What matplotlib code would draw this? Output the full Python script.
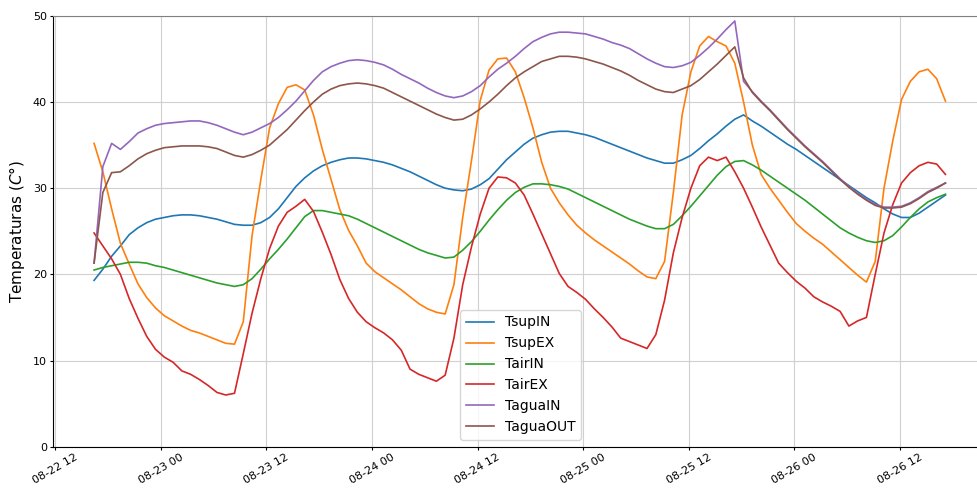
import matplotlib
matplotlib.use("Agg")
import matplotlib.dates as mdates
import matplotlib.pyplot as plt
import pandas as pd

# hourly readings, 08-22 16:25 -> 08-26 17:10
times = pd.date_range("2022-08-22 16:25", "2022-08-26 17:10", periods=98)

tsup_in = [
    19.3, 20.6, 22.1, 23.3, 24.6, 25.4, 26.0, 26.4, 26.6, 26.8,
    26.9, 26.9, 26.8, 26.6, 26.4, 26.1, 25.8, 25.7, 25.7, 26.0,
    26.6, 27.6, 28.9, 30.2, 31.2, 32.0, 32.6, 33.0, 33.3, 33.5,
    33.5, 33.4, 33.2, 33.0, 32.7, 32.3, 31.9, 31.4, 30.9, 30.4,
    30.0, 29.8, 29.7, 29.9, 30.4, 31.1, 32.2, 33.3, 34.2, 35.1,
    35.8, 36.2, 36.5, 36.6, 36.6, 36.4, 36.2, 35.9, 35.5, 35.1,
    34.7, 34.3, 33.9, 33.5, 33.2, 32.9, 32.9, 33.3, 33.8, 34.6,
    35.5, 36.3, 37.2, 38.0, 38.5, 37.8, 37.2, 36.5, 35.8, 35.1,
    34.5, 33.8, 33.1, 32.4, 31.7, 31.0, 30.3, 29.6, 28.9, 28.3,
    27.6, 27.0, 26.6, 26.6, 27.1, 27.8, 28.5, 29.2,
]
tsup_ex = [
    35.2, 31.9, 27.6, 23.6, 21.2, 18.9, 17.3, 16.1, 15.2, 14.6,
    14.0, 13.5, 13.2, 12.8, 12.4, 12.0, 11.9, 14.5, 24.5, 31.0,
    37.0, 39.8, 41.7, 42.0, 41.4, 38.5, 34.5, 31.0, 27.5, 25.1,
    23.3, 21.3, 20.3, 19.6, 18.9, 18.2, 17.4, 16.6, 16.0, 15.6,
    15.4, 18.8, 26.6, 33.2, 40.2, 43.7, 45.0, 45.1, 43.5, 40.5,
    37.0, 33.0, 30.0, 28.3, 26.9, 25.7, 24.8, 24.0, 23.3, 22.6,
    21.9, 21.2, 20.4, 19.7, 19.5, 21.5, 29.5, 38.5, 43.5, 46.5,
    47.6, 47.0, 46.5, 44.5, 40.0, 35.0, 31.6, 30.0, 28.6, 27.2,
    25.9, 25.0, 24.2, 23.5, 22.6, 21.7, 20.8, 19.9, 19.1, 21.5,
    30.0, 35.5, 40.3, 42.4, 43.5, 43.8, 42.7, 40.1,
]
tair_in = [
    20.5, 20.8, 21.0, 21.2, 21.4, 21.4, 21.3, 21.0, 20.8, 20.5,
    20.2, 19.9, 19.6, 19.3, 19.0, 18.8, 18.6, 18.8, 19.5, 20.6,
    21.8, 22.9, 24.1, 25.4, 26.7, 27.4, 27.4, 27.2, 27.0, 26.8,
    26.4, 25.9, 25.4, 24.9, 24.4, 23.9, 23.4, 22.9, 22.5, 22.2,
    21.9, 22.0, 22.8, 23.8, 25.0, 26.3, 27.5, 28.6, 29.5, 30.1,
    30.5, 30.5, 30.4, 30.2, 29.9, 29.4, 28.9, 28.4, 27.9, 27.4,
    26.9, 26.4, 26.0, 25.6, 25.3, 25.3, 25.8, 26.8, 27.9, 29.1,
    30.3, 31.5, 32.5, 33.1, 33.2, 32.7, 32.1, 31.4, 30.7, 30.0,
    29.3, 28.6, 27.8, 27.0, 26.2, 25.4, 24.8, 24.3, 23.9, 23.7,
    23.9, 24.5, 25.5, 26.6, 27.6, 28.4, 28.9, 29.3,
]
tair_ex = [
    24.8, 23.3, 21.8, 20.0, 17.2, 14.9, 12.8, 11.3, 10.4, 9.8,
    8.8, 8.4, 7.8, 7.1, 6.3, 6.0, 6.2, 10.8, 15.5, 19.5,
    23.0, 25.6, 27.2, 27.9, 28.7, 27.3, 24.9, 22.3, 19.4, 17.2,
    15.6, 14.5, 13.8, 13.2, 12.4, 11.2, 9.0, 8.4, 8.0, 7.6,
    8.3, 12.6, 18.8, 23.2, 27.0, 30.0, 31.3, 31.2, 30.6, 29.2,
    27.0, 24.7, 22.4, 20.1, 18.6, 17.9, 17.1, 16.0, 15.0, 13.9,
    12.6, 12.2, 11.8, 11.4, 13.0, 17.0, 22.5, 26.6, 30.0, 32.6,
    33.6, 33.2, 33.6, 31.9, 30.0, 27.8, 25.5, 23.4, 21.3, 20.2,
    19.2, 18.4, 17.4, 16.8, 16.3, 15.7, 14.0, 14.6, 15.0, 20.0,
    24.8, 28.1, 30.6, 31.8, 32.6, 33.0, 32.8, 31.6,
]
tagua_in = [
    21.3, 32.5, 35.2, 34.5, 35.4, 36.4, 36.9, 37.3, 37.5, 37.6,
    37.7, 37.8, 37.8, 37.6, 37.3, 36.9, 36.5, 36.2, 36.5, 37.0,
    37.5, 38.2, 39.1, 40.1, 41.3, 42.5, 43.5, 44.1, 44.5, 44.8,
    44.9, 44.8, 44.6, 44.3, 43.8, 43.2, 42.7, 42.2, 41.6, 41.1,
    40.7, 40.5, 40.7, 41.2, 41.9, 42.9, 43.8, 44.5, 45.3, 46.2,
    47.0, 47.5, 47.9, 48.1, 48.1, 48.0, 47.9, 47.6, 47.3, 46.9,
    46.6, 46.2, 45.6, 45.0, 44.5, 44.1, 44.0, 44.2, 44.6, 45.4,
    46.3, 47.3, 48.4, 49.4, 42.4, 41.2, 40.1, 39.1, 38.0, 36.9,
    35.9, 34.9, 34.0, 33.1, 32.1, 31.1, 30.2, 29.4, 28.7, 28.1,
    27.8, 27.8, 27.9, 28.3, 28.9, 29.6, 30.1, 30.6,
]
tagua_out = [
    21.3, 29.5, 31.8, 31.9, 32.6, 33.4, 34.0, 34.4, 34.7, 34.8,
    34.9, 34.9, 34.9, 34.8, 34.6, 34.2, 33.8, 33.6, 33.9, 34.4,
    35.0, 35.9, 36.8, 37.9, 39.0, 40.0, 40.9, 41.5, 41.9, 42.1,
    42.2, 42.1, 41.9, 41.6, 41.1, 40.6, 40.1, 39.6, 39.1, 38.6,
    38.2, 37.9, 38.0, 38.5, 39.2, 40.0, 40.9, 41.9, 42.8, 43.5,
    44.1, 44.7, 45.0, 45.3, 45.3, 45.2, 45.0, 44.7, 44.4, 44.0,
    43.6, 43.1, 42.5, 42.0, 41.5, 41.2, 41.1, 41.5, 41.9, 42.6,
    43.5, 44.4, 45.4, 46.4, 42.8, 41.1, 40.0, 39.0, 37.9, 36.8,
    35.8, 34.8, 33.9, 33.0, 32.0, 31.0, 30.1, 29.3, 28.6, 28.0,
    27.7, 27.7, 27.8, 28.2, 28.8, 29.5, 30.0, 30.6,
]

series = [
    ("TsupIN", tsup_in),
    ("TsupEX", tsup_ex),
    ("TairIN", tair_in),
    ("TairEX", tair_ex),
    ("TaguaIN", tagua_in),
    ("TaguaOUT", tagua_out),
]

fig = plt.figure(figsize=(9.78, 4.88), dpi=100)
ax = fig.add_axes([0.0542, 0.0846, 0.956, 0.883])

for name, values in series:
    ax.plot(times, values, label=name, linewidth=1.2)

ax.set_xlim(pd.Timestamp("2022-08-22 11:45"), pd.Timestamp("2022-08-26 22:00"))
ax.set_ylim(0, 50)
ax.xaxis.set_major_locator(mdates.HourLocator(byhour=[0, 12]))
ax.xaxis.set_major_formatter(mdates.DateFormatter("%m-%d %H"))
ax.tick_params(axis="x", labelsize=8, labelrotation=30, length=2.5, pad=1.5)
ax.tick_params(axis="y", labelsize=8, length=2.5, pad=2)
ax.set_ylabel(r"Temperaturas ($C°$)", fontsize=11)
ax.grid(True, color="#d0d0d0", linewidth=0.8)
ax.spines["top"].set_color("#808080")
ax.legend(loc="lower center", fontsize=10)

fig.savefig("out.png", dpi=100)
